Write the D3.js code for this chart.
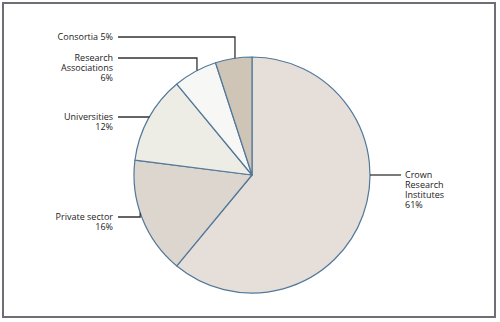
<!DOCTYPE html>
<html>
<head>
<meta charset="utf-8">
<script src="https://cdn.jsdelivr.net/npm/d3@7"></script>
<style>
  body { margin: 0; background: #fff; }
  #chart text { font-family: "Open Sans", sans-serif; font-size: 9px; fill: #222; }
</style>
</head>
<body>
<div id="chart"></div>
<script>
const categories = ["Crown Research Institutes", "Private sector", "Universities", "Research Associations", "Consortia"];
const shares = [61, 16, 12, 6, 5];
const sliceColors = ["#e6dfd9", "#dcd6cf", "#eeede5", "#f7f7f5", "#cec5b7"];
// label text lines, where on the arc the leader touches (deg, clockwise from top), label y
const labelLines = [
  ["Crown", "Research", "Institutes", "61%"],
  ["Private sector", "16%"],
  ["Universities", "12%"],
  ["Research", "Associations", "6%"],
  ["Consortia 5%"]
];
const leaderAngles = [90, 251.4, 299.2, 332.2, 351.7];
const labelY = [175, 217, 117, 58, 37];

const width = 500;
const height = 322;
const cx = 252, cy = 175, r = 118;

const svg = d3.select("#chart")
  .append("svg")
  .attr("width", width)
  .attr("height", height);

// frame
svg.append("rect")
  .attr("x", 3).attr("y", 3)
  .attr("width", 492).attr("height", 314)
  .attr("fill", "none")
  .attr("stroke", "#6e6e76")
  .attr("stroke-width", 2);

const data = categories.map((c, i) => ({ name: c, value: shares[i], color: sliceColors[i], lines: labelLines[i], angle: leaderAngles[i], ly: labelY[i] }));

const pie = d3.pie().value(d => d.value).sort(null);
const arc = d3.arc().innerRadius(0).outerRadius(r);

const g = svg.append("g").attr("transform", `translate(${cx},${cy})`);

g.selectAll("path.slice")
  .data(pie(data))
  .enter()
  .append("path")
  .attr("class", "slice")
  .attr("d", arc)
  .attr("fill", d => d.data.color)
  .attr("stroke", "#52789a")
  .attr("stroke-width", 1.2)
  .attr("stroke-linejoin", "round");

// leader lines + labels
data.forEach(d => {
  const a = d.angle * Math.PI / 180;
  const ax = cx + r * Math.sin(a);
  const ay = cy - r * Math.cos(a);
  const right = ax > cx;

  let pts;
  if (right) {
    pts = [[ax, ay], [ax + 31, ay]];
  } else {
    pts = [[118, d.ly], [ax, d.ly], [ax, ay]];
  }
  svg.append("path")
    .attr("d", d3.line()(pts))
    .attr("fill", "none")
    .attr("stroke", "#333")
    .attr("stroke-width", 1.3);

  const t = svg.append("text")
    .attr("x", right ? ax + 35 : 113)
    .attr("y", right ? ay : d.ly)
    .attr("text-anchor", right ? "start" : "end");

  d.lines.forEach((line, i) => {
    t.append("tspan")
      .attr("x", right ? ax + 35 : 113)
      .attr("dy", i === 0 ? "0.35em" : "10")
      .text(line);
  });
});
</script>
</body>
</html>
